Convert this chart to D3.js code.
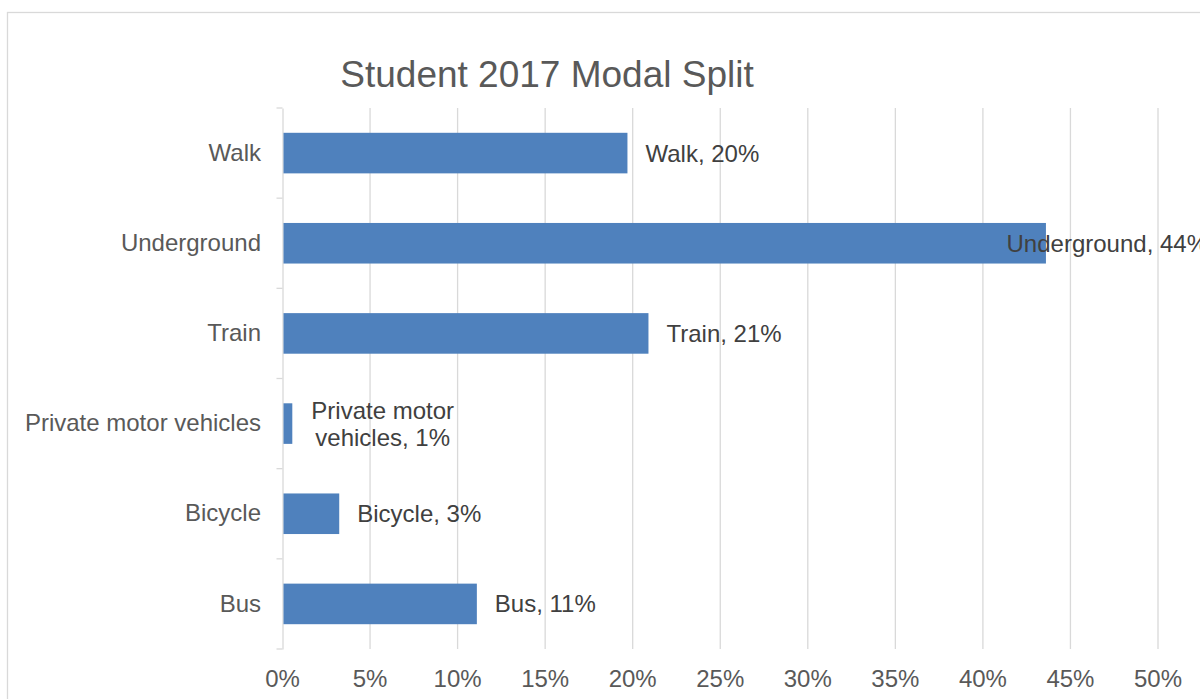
<!DOCTYPE html>
<html>
<head>
<meta charset="utf-8">
<script src="https://cdn.jsdelivr.net/npm/d3@7"></script>
<style>
  body { margin: 0; background: #fff; }
  svg { display: block; font-family: "Liberation Sans", Arial, sans-serif; }
</style>
</head>
<body>
<div class="chart"></div>
<script>
// data
const categories = ['Walk', 'Underground', 'Train', 'Private motor vehicles', 'Bicycle', 'Bus']
const shares = [0.197, 0.436, 0.209, 0.0056, 0.0324, 0.111]
const xTicks = [0, 0.05, 0.10, 0.15, 0.20, 0.25, 0.30, 0.35, 0.40, 0.45, 0.50]
const title = 'Student 2017 Modal Split'

const width = 1200, height = 699
const plot = {left: 282.5, right: 1158, top: 108, bottom: 649}
const barColor = '#4f81bd'
const gridColor = '#d9d9d9'

const data = categories.map((c, i) => ({name: c, value: shares[i]}))

const svg = d3.select('.chart').append('svg')
    .attr('width', width)
    .attr('height', height)

// chart frame (runs off the right / bottom edge)
svg.append('rect')
    .attr('x', 7.5).attr('y', 12.5)
    .attr('width', width + 20).attr('height', height + 20)
    .attr('fill', 'none')
    .attr('stroke', gridColor)
    .attr('stroke-width', 1.3)

const x = d3.scaleLinear().domain([0, 0.5]).range([plot.left, plot.right])
const y = d3.scaleBand()
    .domain(categories)
    .range([plot.top, plot.bottom])
    .paddingInner(0.55)
    .paddingOuter(0.275)

// vertical gridlines
svg.append('g')
    .selectAll('line')
    .data(xTicks.slice(1))
    .enter().append('line')
    .attr('x1', d => x(d)).attr('x2', d => x(d))
    .attr('y1', plot.top).attr('y2', plot.bottom)
    .attr('stroke', gridColor)
    .attr('stroke-width', 1.3)

// x tick labels
svg.append('g')
    .selectAll('text')
    .data(xTicks)
    .enter().append('text')
    .attr('x', d => x(d))
    .attr('y', 687)
    .attr('text-anchor', 'middle')
    .attr('font-size', '24px')
    .attr('fill', '#595959')
    .text(d => d3.format('.0%')(d))

// category axis
const yAxis = d3.axisLeft(y).tickSize(0).tickPadding(21.5)
const yg = svg.append('g')
    .attr('transform', `translate(${plot.left},0)`)
    .call(yAxis)
yg.select('.domain').attr('stroke', gridColor).attr('stroke-width', 1.3)
yg.selectAll('text')
    .attr('font-size', '24px')
    .attr('font-family', '"Liberation Sans", Arial, sans-serif')
    .attr('fill', '#595959')
// tick marks between categories
const bounds = categories.map(c => y(c) - y.step() * y.paddingInner() / 2)
bounds.push(plot.bottom)
bounds[0] = plot.top
yg.selectAll('.sep')
    .data(bounds)
    .enter().append('line')
    .attr('class', 'sep')
    .attr('x1', -6).attr('x2', 0)
    .attr('y1', d => d).attr('y2', d => d)
    .attr('stroke', gridColor)
    .attr('stroke-width', 1.3)

// bars
svg.append('g')
    .selectAll('rect')
    .data(data)
    .enter().append('rect')
    .attr('x', x(0) + 1)
    .attr('y', d => y(d.name))
    .attr('width', d => x(d.value) - x(0) - 1)
    .attr('height', y.bandwidth())
    .attr('fill', barColor)

// data labels
const labels = svg.append('g')
    .attr('font-size', '24px')
    .attr('fill', '#404040')

data.forEach(d => {
    const str = `${d.name}, ${Math.round(d.value * 100)}%`
    const cy = y(d.name) + y.bandwidth() / 2
    const t = labels.append('text').attr('y', cy + 8.5).text(str)
    const w = t.node().getComputedTextLength()
    if (w > 230) {
        // wrap the long one onto two lines, centred
        const words = str.split(' ')
        const line1 = words.slice(0, 2).join(' ')
        const line2 = words.slice(2).join(' ')
        t.text(null)
        t.append('tspan').text(line1)
        t.append('tspan').text(line2)
        const w1 = t.select('tspan:nth-child(1)').node().getComputedTextLength()
        const w2 = t.select('tspan:nth-child(2)').node().getComputedTextLength()
        const cx = x(d.value) + 19 + Math.max(w1, w2) / 2
        t.attr('text-anchor', 'middle')
        t.selectAll('tspan')
            .attr('x', cx)
            .attr('y', (dd, i) => cy + 8.5 - 13.5 + i * 27)
    } else {
        const lx = Math.min(x(d.value) + 18, 1208 - w)
        t.attr('x', lx)
    }
})

// title
svg.append('text')
    .attr('x', 547)
    .attr('y', 87)
    .attr('text-anchor', 'middle')
    .attr('font-size', '37px')
    .attr('fill', '#595959')
    .text(title)
</script>
</body>
</html>
